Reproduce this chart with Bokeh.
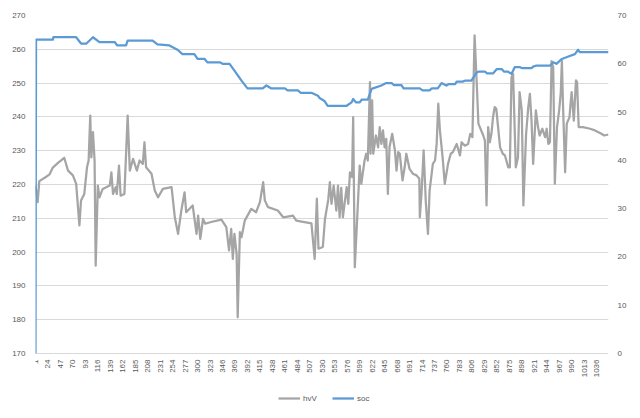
import math
from bokeh.plotting import figure
from bokeh.models import Range1d, LinearAxis, FixedTicker, Legend, LegendItem
from bokeh.core.properties import value
from bokeh.embed import file_html
from bokeh.resources import INLINE

# x tick labels (category index shown every 23 samples)
x_ticks = [1, 24, 47, 70, 93, 116, 139, 162, 185, 208, 231, 254, 277, 300, 323, 346,
           369, 392, 415, 438, 461, 484, 507, 530, 553, 576, 599, 622, 645, 668, 691,
           714, 737, 760, 783, 806, 829, 852, 875, 898, 921, 944, 967, 990, 1013, 1036]
left_ticks = [170, 180, 190, 200, 210, 220, 230, 240, 250, 260, 270]
right_ticks = [0, 10, 20, 30, 40, 50, 60, 70]

# hvV series (sample index, value)
hv_idx = [1, 5, 8, 18, 27, 33, 42, 54, 61, 70,
          76, 82, 85, 91, 96, 99, 102, 104, 107, 110,
          112, 116, 119, 125, 138, 141, 144, 149, 151, 155,
          158, 165, 171, 175, 181, 188, 193, 199, 202, 205,
          215, 221, 227, 236, 252, 258, 264, 270, 276, 279,
          291, 298, 301, 305, 310, 314, 325, 344, 353, 358,
          362, 365, 368, 372, 374, 378, 381, 387, 399, 408,
          415, 421, 424, 430, 448, 458, 476, 482, 510, 516,
          520, 523, 531, 535, 541, 544, 547, 551, 556, 559,
          562, 565, 568, 575, 578, 581, 585, 587, 590, 596,
          599, 602, 608, 611, 614, 618, 619, 622, 624, 629,
          633, 636, 639, 642, 645, 648, 651, 654, 659, 664,
          667, 670, 673, 678, 682, 685, 691, 697, 704, 709,
          710, 713, 717, 721, 725, 728, 734, 738, 741, 744,
          747, 752, 756, 762, 767, 771, 778, 784, 787, 793,
          799, 803, 807, 810, 811, 815, 818, 827, 830, 833,
          836, 839, 842, 845, 848, 851, 858, 863, 867, 873,
          876, 879, 882, 887, 891, 894, 898, 901, 906, 910,
          913, 916, 919, 924, 928, 931, 936, 941, 944, 947,
          950, 953, 956, 959, 963, 967, 970, 972, 974, 978,
          981, 986, 988, 990, 994, 998, 1000, 1003, 1011, 1024,
          1033, 1045, 1050, 1058]
hv_val = [219.7, 214.8, 221.0, 222.0, 223.0, 225.0, 226.3, 227.9, 224.1, 222.7,
          220.2, 207.9, 215.3, 217.2, 225.1, 227.1, 240.4, 228.0, 235.5, 227.0,
          196.0, 219.7, 216.2, 218.7, 219.7, 223.6, 217.2, 219.2, 217.2, 225.6,
          216.7, 217.2, 240.4, 224.1, 227.6, 224.1, 227.1, 226.1, 232.5, 225.1,
          223.2, 218.2, 216.2, 218.7, 219.2, 210.3, 205.4, 212.3, 217.7, 211.8,
          213.8, 205.4, 210.8, 203.9, 209.8, 208.4, 208.9, 209.6, 207.4, 200.5,
          206.9, 198.0, 205.4, 199.5, 180.7, 205.9, 204.4, 209.3, 212.8, 211.8,
          214.8, 220.7, 215.3, 213.3, 212.3, 210.3, 210.8, 209.3, 208.5, 198.0,
          215.8, 201.0, 201.5, 209.8, 215.5, 220.7, 214.3, 219.7, 212.3, 219.7,
          210.3, 219.0, 210.3, 219.2, 214.3, 223.6, 222.2, 239.9, 195.5, 215.3,
          225.6, 220.2, 227.1, 229.1, 227.1, 250.3, 229.1, 244.9, 229.1, 234.5,
          231.0, 237.0, 232.0, 236.0, 231.0, 233.5, 217.2, 231.0, 235.0, 230.1,
          224.1, 229.6, 229.1, 221.2, 225.1, 229.1, 224.6, 223.2, 222.7, 221.7,
          210.3, 217.2, 230.1, 214.8, 205.4, 218.2, 226.1, 227.1, 232.0, 243.9,
          236.0, 228.0, 220.2, 226.1, 229.1, 229.6, 232.0, 228.6, 232.5, 231.5,
          232.0, 235.0, 234.0, 257.2, 264.1, 249.8, 238.0, 234.5, 233.0, 213.8,
          237.0, 232.5, 235.0, 239.9, 242.9, 242.4, 231.0, 229.1, 228.6, 225.1,
          225.1, 251.7, 252.7, 225.1, 228.0, 247.3, 241.9, 213.8, 235.0, 242.9,
          246.8, 238.9, 226.1, 241.9, 237.0, 234.5, 236.5, 234.0, 236.5, 232.0,
          232.5, 256.5, 254.7, 220.2, 237.0, 241.9, 247.3, 256.5, 243.9, 223.6,
          238.0, 239.9, 243.9, 247.3, 238.9, 250.8, 250.3, 237.0, 237.0, 236.5,
          236.0, 235.0, 234.5, 234.8]

# soc series (sample index, value)
soc_idx = [1, 2, 33, 34, 76, 85, 95, 107, 119, 147,
           152, 168, 171, 217, 226, 248, 263, 272, 294, 300,
           313, 318, 341, 346, 359, 368, 381, 392, 420, 427,
           436, 461, 466, 485, 490, 510, 522, 525, 534, 540,
           575, 584, 587, 592, 599, 603, 614, 621, 639, 648,
           658, 662, 676, 680, 710, 715, 728, 732, 743, 750,
           759, 763, 775, 778, 789, 793, 805, 815, 819, 830,
           834, 845, 852, 861, 865, 872, 879, 885, 895, 898,
           916, 919, 924, 950, 956, 962, 972, 984, 996, 1002,
           1005, 1058]
soc_val = [0.0, 65.0, 65.0, 65.5, 65.5, 64.2, 64.2, 65.5, 64.5, 64.5,
           63.8, 63.8, 64.8, 64.8, 64.0, 63.8, 62.9, 62.0, 62.0, 61.0,
           61.0, 60.3, 60.3, 60.0, 60.0, 58.6, 56.5, 54.9, 54.9, 55.5,
           54.9, 54.9, 54.5, 54.5, 54.0, 54.0, 53.4, 52.9, 52.3, 51.3,
           51.3, 52.0, 52.7, 52.0, 52.0, 52.6, 52.6, 54.8, 55.5, 56.0,
           56.0, 55.6, 55.6, 54.9, 54.9, 54.5, 54.5, 54.9, 54.9, 56.0,
           55.5, 55.8, 55.8, 56.3, 56.3, 56.5, 56.5, 58.2, 58.4, 58.4,
           58.0, 58.0, 58.9, 58.9, 58.4, 58.4, 57.9, 59.3, 59.3, 59.1,
           59.1, 59.4, 59.6, 59.6, 60.3, 60.0, 61.0, 61.5, 62.0, 62.9,
           62.4, 62.4]

FONT = "Liberation Sans"
TXT = "#595959"
GRID = "#D9D9D9"

# layout (pixels)
W, H = 632, 410
TOP, LEFT, RIGHT = 15, 35, 24
PLOT_H = 338           # height of the 170..270 band
BELOW = H - TOP - PLOT_H  # room under the band for x labels + legend
frame_h = H - TOP

# extend both y ranges downward so the band 170..270 / 0..70 keeps PLOT_H pixels
l_lo, l_hi = left_ticks[0], left_ticks[-1]
r_lo, r_hi = right_ticks[0], right_ticks[-1]
l_start = l_lo - BELOW * (l_hi - l_lo) / PLOT_H
r_start = r_lo - BELOW * (r_hi - r_lo) / PLOT_H

p = figure(width=W, height=H, output_backend="svg", toolbar_location=None,
           x_range=Range1d(hv_idx[0], hv_idx[-1]), y_range=Range1d(l_start, l_hi),
           x_axis_location=None)
p.min_border_left = LEFT
p.min_border_right = RIGHT
p.min_border_top = TOP
p.min_border_bottom = 0
p.outline_line_color = None
p.background_fill_color = "white"
p.border_fill_color = "white"

p.extra_y_ranges = {"soc": Range1d(r_start, r_hi)}

# grid (only 170..270)
p.xgrid.visible = False
p.ygrid.grid_line_color = GRID
p.ygrid.grid_line_width = 1
p.ygrid.ticker = FixedTicker(ticks=left_ticks)

def style_axis(ax, standoff):
    ax.axis_line_color = None
    ax.major_tick_line_color = None
    ax.minor_tick_line_color = None
    ax.major_tick_out = 0
    ax.major_tick_in = 0
    ax.minor_tick_out = 0
    ax.minor_tick_in = 0
    ax.major_label_text_font = FONT
    ax.major_label_text_font_size = "8px"
    ax.major_label_text_color = TXT
    ax.major_label_standoff = standoff

# left axis
ya = p.yaxis[0]
ya.ticker = FixedTicker(ticks=left_ticks)
style_axis(ya, 10)

# right axis
ra = LinearAxis(y_range_name="soc", ticker=FixedTicker(ticks=right_ticks))
style_axis(ra, 9)
p.add_layout(ra, "right")

# category labels under the 170 line, rotated to read bottom-to-top
p.text(x=x_ticks, y=[l_lo] * len(x_ticks), text=[str(t) for t in x_ticks],
       angle=math.pi / 2, text_align="right", text_baseline="middle",
       y_offset=6, text_font=value(FONT), text_font_size="8px", text_color=TXT)

r_hv = p.line(hv_idx, hv_val, line_color="#A5A5A5", line_width=2.25, line_join="round")
r_soc = p.line(soc_idx, soc_val, line_color="#5B9BD5", line_width=2.25, line_join="round",
               y_range_name="soc")

legend = Legend(items=[LegendItem(label="hvV", renderers=[r_hv]),
                       LegendItem(label="soc", renderers=[r_soc])],
                orientation="horizontal", location=(243, 7))
legend.glyph_width = 22
legend.glyph_height = 10
legend.label_height = 10
legend.label_standoff = 3
legend.spacing = 9
legend.padding = 0
legend.margin = 0
legend.border_line_color = None
legend.background_fill_alpha = 0
legend.label_text_font = FONT
legend.label_text_font_size = "8px"
legend.label_text_color = TXT
p.add_layout(legend, "center")

open("out.html", "w").write(file_html(p, INLINE))
